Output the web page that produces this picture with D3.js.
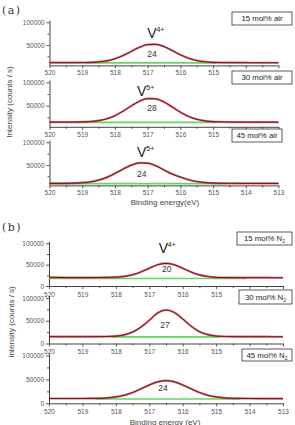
<!DOCTYPE html>
<html>
<head>
<meta charset="utf-8">
<script src="https://cdn.jsdelivr.net/npm/d3@7"></script>
<style>
body { margin: 0; background: #fff; }
text { font-family: "Liberation Sans", Arial, sans-serif; }
</style>
</head>
<body>
<div id="chart"></div>
<script>
// binding energy grid (eV), 520 -> 513 in 0.25 steps
var energy = [520, 519.75, 519.5, 519.25, 519, 518.75, 518.5, 518.25, 518, 517.75,
    517.5, 517.25, 517, 516.75, 516.5, 516.25, 516, 515.75, 515.5, 515.25,
    515, 514.75, 514.5, 514.25, 514, 513.75, 513.5, 513.25, 513];

// intensity (counts / s)
var air15 = [11000, 11000, 11000, 11000, 11200, 11600, 12600, 15000, 19600, 26700,
    35900, 44900, 50900, 51500, 46500, 37800, 28400, 20800, 15700, 13000,
    11700, 11200, 11000, 10900, 10900, 10800, 10800, 10800, 10800];
var air30 = [15000, 15000, 15000, 15100, 15400, 16300, 18200, 22100, 28800, 38400,
    49600, 59700, 65400, 64800, 57900, 47300, 36200, 27200, 21100, 17700,
    16000, 15400, 15100, 15000, 15000, 14900, 14900, 14800, 14800];
var air45 = [9500, 9500, 9500, 10000, 10900, 12800, 16600, 22700, 31200, 41000,
    49600, 54500, 53900, 48100, 39100, 29900, 23500, 17500, 13500, 11200,
    10200, 9700, 9500, 9500, 9400, 9400, 9400, 9400, 9400];
var n15 = [20500, 20000, 19800, 19800, 19800, 19800, 19900, 20200, 20800, 22500,
    26300, 33000, 41800, 49800, 53000, 49700, 41600, 32700, 26000, 22200,
    20400, 19800, 19600, 19500, 19500, 19400, 19400, 19300, 19300];
var n30 = [15000, 15000, 15000, 15000, 15000, 15000, 15100, 15400, 16200, 19000,
    25000, 36000, 51000, 67000, 73600, 68000, 54000, 38000, 26000, 19500,
    16400, 15400, 15100, 15000, 15000, 14900, 14900, 14800, 14800];
var n45 = [10000, 10000, 10000, 10000, 10000, 10200, 10500, 11300, 13300, 16900,
    22600, 30300, 38500, 44900, 47300, 44900, 38500, 30300, 22600, 16900,
    13300, 11300, 10500, 10200, 10000, 9900, 9900, 9800, 9800];

// background (green) line: start eV, end eV, level
var baseStart = [518.9, 519.2, 520, 520, 518.1, 518.6];
var baseEnd = [514.9, 514.9, 514.6, 514.1, 514.9, 514.3];
var baseLevel = [10500, 14500, 9000, 17500, 14500, 9000];

var legendText = ["15 mol% air", "30 mol% air", "45 mol% air", "15 mol% N", "30 mol% N", "45 mol% N"];
var ionText = ["4+", "5+", "5+", "4+", "", ""];
var areaText = ["24", "28", "24", "20", "27", "24"];

var xTicks = [520, 519, 518, 517, 516, 515, 514, 513];
var xMinor = [519.5, 518.5, 517.5, 516.5, 515.5, 514.5, 513.5];

var svgWidth = 295;
var svgHeight = 425;

var svg = d3.select("#chart")
    .append("svg")
    .attr("width", svgWidth)
    .attr("height", svgHeight);

svg.append("rect").attr("width", svgWidth).attr("height", svgHeight).attr("fill", "#fff");

// panel layout (pixels) + where labels sit (data units)
var panels = [
    {data: air15, top: 20, bottom: 65.4, yMin: 5000, xr: [49.5, 278.5], yt: [50000, 100000], pad: 2.4,
     box: [232, 12, 60, 13], ion: [516.87, 65400], num: [516.87, 22800], sub: false},
    {data: air30, top: 80, bottom: 126.8, yMin: 5000, xr: [49.5, 278.5], yt: [50000, 100000], pad: 2.4,
     box: [232, 71, 60, 13], ion: [517.18, 70800], num: [516.87, 38100], sub: false},
    {data: air45, top: 140, bottom: 185.4, yMin: 5000, xr: [49.5, 278.5], yt: [50000, 100000], pad: 2.4,
     box: [232, 129, 50, 13], ion: [517.18, 68600], num: [517.18, 23500], sub: false},
    {data: n15, top: 241.2, bottom: 286, yMin: 0, xr: [49, 283], yt: [0, 50000, 100000], pad: 3,
     box: [237, 232, 55, 13], ion: [516.58, 76600], num: [516.48, 32100], sub: true},
    {data: n30, top: 295.7, bottom: 343.5, yMin: 0, xr: [49, 283], yt: [0, 50000, 100000], pad: 3,
     box: [239, 290, 53, 14], ion: null, num: [516.53, 34100], sub: true},
    {data: n45, top: 353.1, bottom: 403.3, yMin: 0, xr: [49, 283], yt: [0, 50000, 100000], pad: 3,
     box: [242, 349, 50, 12], ion: null, num: [516.59, 25100], sub: true}
];

// is a point hidden under the legend box of another panel?
function underBox(px, py) {
    return panels.some(function(q) {
        var b = q.box;
        return px > b[0] - 4 && px < b[0] + b[2] + 4 && py > b[1] - 2 && py < b[1] + b[3] + 2;
    });
}

panels.forEach(function(p, i) {
    var x = d3.scaleLinear().domain([520, 513]).range(p.xr);
    var y = d3.scaleLinear().domain([p.yMin, 105000]).range([p.bottom, p.top]);
    var g = svg.append("g");

    // minor ticks first
    g.append("g")
        .attr("transform", `translate(0, ${p.bottom})`)
        .call(d3.axisBottom(x).tickValues(xMinor).tickSize(2).tickSizeOuter(0).tickFormat(""))
        .call(a => a.select(".domain").remove())
        .selectAll("line").attr("stroke", "#555");
    g.append("g")
        .attr("transform", `translate(${p.xr[0]}, 0)`)
        .call(d3.axisLeft(y).tickValues([25000, 75000]).tickSize(2).tickSizeOuter(0).tickFormat(""))
        .call(a => a.select(".domain").remove())
        .selectAll("line").attr("stroke", "#555");

    // labels that the next legend box covers are left out
    var shown = xTicks.filter(t => !underBox(x(t), p.bottom + 7.5));

    var xAxis = g.append("g")
        .attr("transform", `translate(0, ${p.bottom})`)
        .call(d3.axisBottom(x).tickValues(xTicks).tickSize(3).tickSizeOuter(0).tickPadding(p.pad)
            .tickFormat(t => shown.indexOf(t) >= 0 ? d3.format("d")(t) : ""));
    var yAxis = g.append("g")
        .attr("transform", `translate(${p.xr[0]}, 0)`)
        .call(d3.axisLeft(y).tickValues(p.yt).tickSize(3).tickSizeOuter(0).tickPadding(2).tickFormat(d3.format("d")));

    [xAxis, yAxis].forEach(function(a) {
        a.select(".domain").attr("stroke", "#444");
        a.selectAll("line").attr("stroke", "#555");
        a.selectAll("text")
            .attr("font-size", 6.5)
            .attr("fill", "#555")
            .style("font-family", "Liberation Sans, Arial, sans-serif");
    });

    var pts = energy.map((e, k) => [e, p.data[k]]);
    var line = d3.line()
        .x(d => x(d[0]))
        .y(d => y(d[1]))
        .curve(d3.curveMonotoneX);

    // background
    g.append("path")
        .attr("d", line([[baseStart[i], baseLevel[i]], [baseEnd[i], baseLevel[i]]]))
        .attr("fill", "none")
        .attr("stroke", "#5fd860")
        .attr("stroke-width", 1.6);

    // fitted envelope + measured trace
    g.append("path")
        .attr("d", line(pts))
        .attr("fill", "none")
        .attr("stroke", "#e2404c")
        .attr("stroke-opacity", 0.8)
        .attr("stroke-width", 2.2);
    g.append("path")
        .attr("d", line(pts))
        .attr("fill", "none")
        .attr("stroke", "#3a0c10")
        .attr("stroke-width", 0.8);

    // legend box
    g.append("rect")
        .attr("x", p.box[0]).attr("y", p.box[1])
        .attr("width", p.box[2]).attr("height", p.box[3])
        .attr("fill", "#fff")
        .attr("stroke", "#333")
        .attr("stroke-width", 0.8);
    var lt = g.append("text")
        .attr("x", p.box[0] + p.box[2] / 2)
        .attr("y", p.box[1] + p.box[3] / 2 + 2.8)
        .attr("text-anchor", "middle")
        .attr("font-size", 7.8)
        .attr("fill", "#222")
        .text(legendText[i]);
    if (p.sub) {
        lt.append("tspan").attr("font-size", 5).attr("dy", 1.8).text("2");
    }

    // V label
    if (p.ion) {
        var vx = x(p.ion[0]), vy = y(p.ion[1]);
        g.append("text")
            .attr("x", vx).attr("y", vy)
            .attr("text-anchor", "middle")
            .attr("font-size", 14)
            .attr("fill", "#222")
            .text("V");
        g.append("text")
            .attr("x", vx + 4.5).attr("y", vy - 6)
            .attr("font-size", 7)
            .attr("fill", "#222")
            .text(ionText[i]);
    }

    // area percentage
    g.append("text")
        .attr("x", x(p.num[0])).attr("y", y(p.num[1]))
        .attr("text-anchor", "middle")
        .attr("font-size", 8.5)
        .attr("fill", "#333")
        .text(areaText[i]);
});

// axis titles
svg.append("text")
    .attr("transform", "translate(12, 102) rotate(-90)")
    .attr("text-anchor", "middle")
    .attr("font-size", 8)
    .attr("fill", "#444")
    .text("Intensity (counts / s)");
svg.append("text")
    .attr("transform", "translate(14, 322) rotate(-90)")
    .attr("text-anchor", "middle")
    .attr("font-size", 8)
    .attr("fill", "#444")
    .text("Intensity (counts / s)");
svg.append("text")
    .attr("x", 165).attr("y", 205)
    .attr("text-anchor", "middle")
    .attr("font-size", 8)
    .attr("fill", "#444")
    .text("Binding energy(eV)");
svg.append("text")
    .attr("x", 165).attr("y", 424.5)
    .attr("text-anchor", "middle")
    .attr("font-size", 8)
    .attr("fill", "#444")
    .text("Binding energy (eV)");

// panel letters
svg.append("text")
    .attr("x", 2).attr("y", 14)
    .attr("font-size", 11)
    .attr("letter-spacing", 1.5)
    .attr("fill", "#333")
    .style("font-family", "DejaVu Serif, serif")
    .text("(a)");
svg.append("text")
    .attr("x", 2).attr("y", 231)
    .attr("font-size", 11)
    .attr("letter-spacing", 1.5)
    .attr("fill", "#333")
    .style("font-family", "DejaVu Serif, serif")
    .text("(b)");
</script>
</body>
</html>
